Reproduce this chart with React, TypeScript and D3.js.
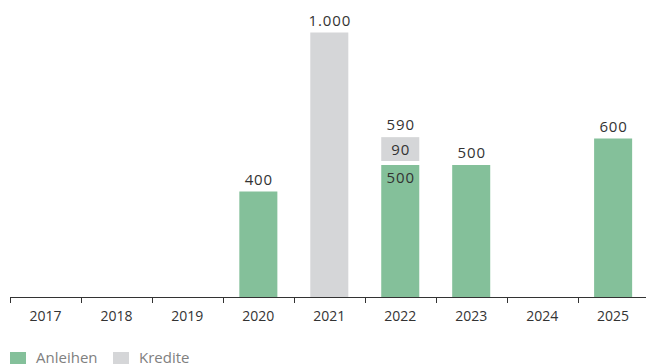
import React from "react";
import * as d3 from "d3";

const years = ["2017", "2018", "2019", "2020", "2021", "2022", "2023", "2024", "2025"];
const anleihen = [0, 0, 0, 400, 0, 500, 500, 0, 600];
const kredite = [0, 0, 0, 0, 1000, 90, 0, 0, 0];
const legendLabels = ["Anleihen", "Kredite"];

const W = 646;
const H = 364;
const GREEN = "#84c09a";
const GREY = "#d5d6d8";
const FONT = "'Open Sans', sans-serif";
const fmt = (v: number) => d3.format(",")(v).replace(/,/g, ".");

export default function App() {
  const x = d3.scaleBand<string>().domain(years).range([10, 648.6]).paddingInner(0.464).paddingOuter(0.232);
  const step = x.step();
  const y = d3.scaleLinear().domain([0, 1000]).range([297.5, 32.5]);
  const gap = 4;
  const bw = x.bandwidth();
  const vStyle = { fontSize: 15, fill: "#333", letterSpacing: 0.9 };

  return (
    <svg width={W} height={H} style={{ position: "absolute", left: 0, top: 0 }} fontFamily={FONT}>
      {years.map((yr, i) => {
        const a = anleihen[i];
        const k = kredite[i];
        const x0 = x(yr)!;
        const cx = x0 + bw / 2 + 0.5;
        const els: React.ReactNode[] = [];
        if (a > 0) {
          els.push(<rect key="a" x={x0} y={y(a)} width={bw} height={y(0) - y(a)} fill={GREEN} />);
        }
        if (k > 0) {
          const off = a > 0 ? gap : 0;
          els.push(
            <rect key="k" x={x0} y={y(a + k) - off} width={bw} height={y(a) - y(a + k)} fill={GREY} />
          );
        }
        const total = a + k;
        if (total > 0) {
          const off = a > 0 && k > 0 ? gap : 0;
          els.push(
            <text key="t" x={cx} y={y(total) - off - 7} textAnchor="middle" {...vStyle}>
              {fmt(total)}
            </text>
          );
          if (a > 0 && k > 0) {
            els.push(
              <text key="ia" x={cx} y={y(a) + 18} textAnchor="middle" {...vStyle}>
                {fmt(a)}
              </text>
            );
            els.push(
              <text key="ik" x={cx} y={y(a + k) - gap + 18} textAnchor="middle" {...vStyle}>
                {fmt(k)}
              </text>
            );
          }
        }
        return <g key={yr}>{els}</g>;
      })}
      <line x1={10} x2={W} y1={297.5} y2={297.5} stroke="#333" strokeWidth={1} />
      {years.map((yr, i) => {
        const tx = Math.round(10 + i * step) + 0.5;
        return (
          <g key={"tick" + yr}>
            <line x1={tx} x2={tx} y1={297} y2={303} stroke="#333" strokeWidth={1} />
            <text x={x(yr)! + bw / 2} y={321.3} textAnchor="middle" fontSize={14} fill="#333">
              {yr}
            </text>
          </g>
        );
      })}
      {legendLabels.map((l, i) => {
        const lx = i === 0 ? 10 : 113;
        return (
          <g key={l}>
            <rect x={lx} y={352} width={16} height={12} fill={i === 0 ? GREEN : GREY} />
            <text x={lx + 26} y={362.5} fontSize={15} fill="#808080">
              {l}
            </text>
          </g>
        );
      })}
    </svg>
  );
}
